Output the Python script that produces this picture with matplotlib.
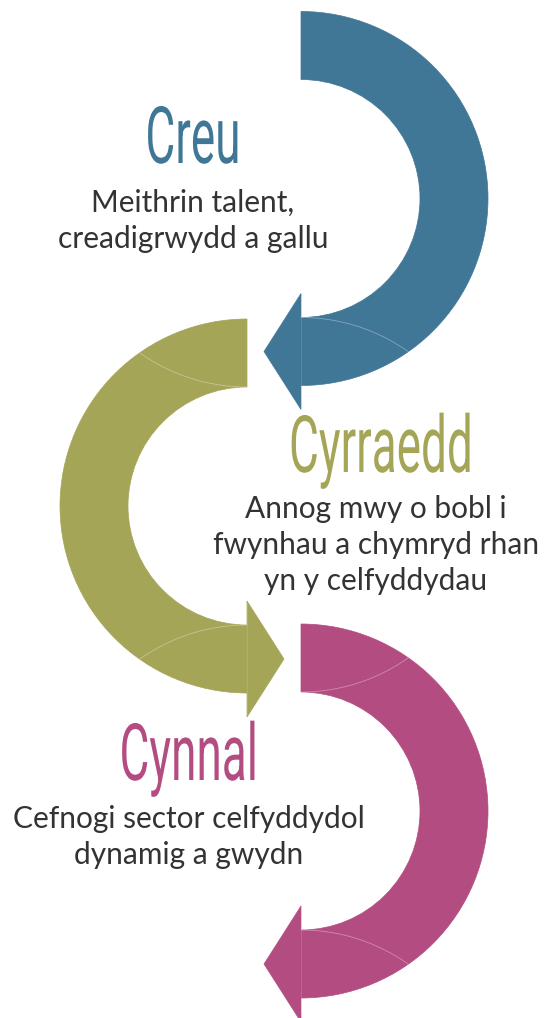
import numpy as np
import matplotlib
matplotlib.use("Agg")
import matplotlib.pyplot as plt
from matplotlib.patches import Wedge, Polygon
from matplotlib.patheffects import AbstractPathEffect
from matplotlib.transforms import Affine2D

# content of the three steps
titles = ["Creu", "Cyrraedd", "Cynnal"]
subtitles = [
    "Meithrin talent,\ncreadigrwydd a gallu",
    "Annog mwy o bobl i\nfwynhau a chymryd rhan\nyn y celfyddydau",
    "Cefnogi sector celfyddydol\ndynamig a gwydn",
]
colours = ["#407796", "#A5A557", "#B34D81"]

# arc geometry (pixels, y going down)
arc_centres = [(301, 198.5), (247, 506), (301, 811)]
arc_side = [1, -1, 1]              # +1 = right half, -1 = left half
seam_ends = [[1], [-1, 1], [-1, 1]]  # which ends carry a seam (-1 top, +1 bottom)
R_OUT, R_IN = 187, 119
HEAD_HALF, HEAD_LEN = 58, 37

# text placement
title_pos = [(193, 163), (381, 472), (189, 780)]
sub_pos = [(193, 212), (376, 518), (189, 828)]
LINE_H = 36
TEXT_COL = "#2B2A29"


class Squeeze(AbstractPathEffect):
    # narrows glyphs around their centre to fake a condensed face
    def __init__(self, sx):
        super().__init__()
        self.sx = sx

    def draw_path(self, renderer, gc, tpath, affine, rgbFace=None):
        ext = tpath.get_extents(affine)
        cx = (ext.x0 + ext.x1) / 2
        sq = Affine2D().translate(-cx, 0).scale(self.sx, 1).translate(cx, 0)
        renderer.draw_path(gc, tpath, affine + sq, rgbFace)


fig = plt.figure(figsize=(5.5, 10.18), dpi=100)
ax = fig.add_axes([0, 0, 1, 1])
ax.set_xlim(0, 550)
ax.set_ylim(1018, 0)
ax.axis("off")

for (cx, cy), d, ends, col in zip(arc_centres, arc_side, seam_ends, colours):
    if d == 1:
        t1, t2 = -90, 90
    else:
        t1, t2 = 90, 270
    ax.add_patch(Wedge((cx, cy), R_OUT, t1, t2, width=R_OUT - R_IN,
                       facecolor=col, edgecolor=col, lw=0.5))

    # arrow head at the bottom end, pointing back across
    hy = cy + (R_OUT + R_IN) / 2
    ax.add_patch(Polygon([(cx, hy - HEAD_HALF), (cx - d * HEAD_LEN, hy),
                          (cx, hy + HEAD_HALF)],
                         facecolor=col, edgecolor=col, lw=0.5))
    ax.plot([cx, cx], [hy - HEAD_HALF + 2, hy + HEAD_HALF - 2],
            color="white", alpha=0.18, lw=0.5)

    # faint seams where the arc pieces join
    ang = np.radians(35)
    dx = R_OUT * np.sin(ang)
    dy = R_OUT * np.cos(ang) - R_IN
    rho = (dx ** 2 + dy ** 2) / (2 * dy)
    phi = np.linspace(0, np.arcsin(dx / rho), 40)
    for s in ends:
        xs = cx + d * rho * np.sin(phi)
        ys = cy + s * (R_IN + rho) - s * rho * np.cos(phi)
        ax.plot(xs, ys, color="white", alpha=0.35, lw=0.6)

for i in range(3):
    tx, ty = title_pos[i]
    ax.text(tx, ty, titles[i], ha="center", va="baseline", fontsize=57,
            family="Roboto", color=colours[i], path_effects=[Squeeze(0.58)])
    sx, sy = sub_pos[i]
    for j, line in enumerate(subtitles[i].split("\n")):
        ax.text(sx, sy + j * LINE_H, line, ha="center", va="baseline",
                fontsize=21.5, family="Lato", color="#333333")

fig.savefig("out.png", dpi=100)
